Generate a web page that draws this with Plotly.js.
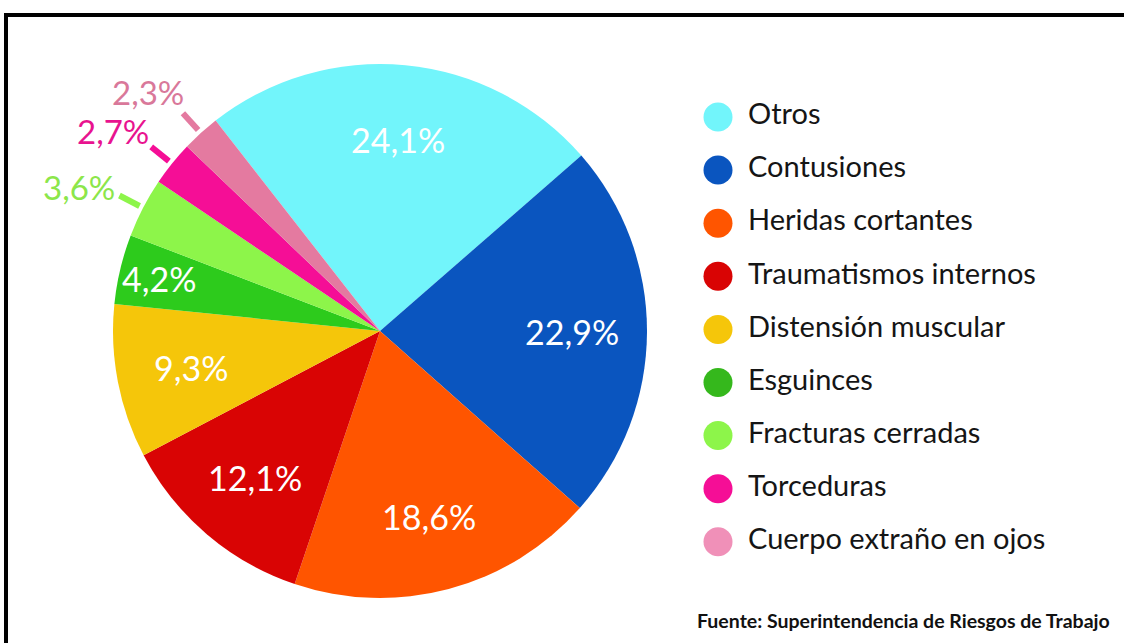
<!DOCTYPE html>
<html>
<head>
<meta charset="utf-8">
<script src="https://cdn.plot.ly/plotly-3.0.1.min.js"></script>
<style>html,body{margin:0;padding:0;background:#fff;}#chart{width:1124px;height:643px;}</style>
</head>
<body>
<div id="chart"></div>
<script>
const categories = ["Otros","Contusiones","Heridas cortantes","Traumatismos internos","Distensión muscular","Esguinces","Fracturas cerradas","Torceduras","Cuerpo extraño en ojos"];
const values = [24.1, 22.9, 18.6, 12.1, 9.3, 4.2, 3.6, 2.7, 2.3];
const sliceColors = ["#72F5FB","#0A55BF","#FF5500","#D90404","#F5C60A","#2DCB1C","#8DF54A","#F50E96","#E47AA0"];
const legendColors = ["#72F5FB","#0A55BF","#FF5500","#D90404","#F5C60A","#35B81C","#8DF54A","#F50E96","#F090B8"];
const outsideTextColors = ["","","","","","","#8CE64A","#E8138F","#D9789A"];
const sourceText = "Fuente: Superintendencia de Riesgos de Trabajo";

const W = 1124, H = 643;
const CX = 380, CY = 331, R = 267;
const ROT = -38;
const FONT = "Lato, 'Open Sans', sans-serif";

const fmt = v => v.toFixed(1).replace('.', ',') + '%';
const px2x = p => p / W;
const py2y = p => 1 - p / H;

const total = values.reduce((a, b) => a + b, 0);
let cum = 0;
const mids = values.map(v => { const m = ROT + (cum + v / 2) / total * 360; cum += v; return m; });
const pt = (deg, f) => {
  const a = deg * Math.PI / 180;
  return [CX + R * f * Math.sin(a), CY - R * f * Math.cos(a)];
};

const annotations = [];
const shapes = [];
values.forEach((v, i) => {
  if (v >= 4) {
    const f = v < 5 ? 0.85 : 0.72;
    const [x, y] = pt(mids[i], f);
    annotations.push({x: px2x(x), y: py2y(y), xref: 'paper', yref: 'paper', text: fmt(v), showarrow: false,
      font: {family: FONT, size: 34, color: '#ffffff'}, xanchor: 'center', yanchor: 'middle'});
  } else {
    const [tx, ty] = pt(mids[i] - 2, 1.25);
    annotations.push({x: px2x(tx), y: py2y(ty), xref: 'paper', yref: 'paper', text: fmt(v), showarrow: false,
      font: {family: FONT, size: 33, color: outsideTextColors[i]}, xanchor: 'center', yanchor: 'middle'});
    const [x0, y0] = pt(mids[i], 1.015);
    const [x1, y1] = pt(mids[i], 1.10);
    shapes.push({type: 'line', xref: 'paper', yref: 'paper', x0: px2x(x0), y0: py2y(y0), x1: px2x(x1), y1: py2y(y1),
      line: {color: sliceColors[i], width: 6}});
  }
});

annotations.push({x: px2x(1112), y: py2y(620), xref: 'paper', yref: 'paper', text: '<b>' + sourceText + '</b>',
  showarrow: false, xanchor: 'right', yanchor: 'middle', font: {family: FONT, size: 19.5, color: '#111111'}});

// frame (top and left thick lines)
shapes.push({type: 'line', xref: 'paper', yref: 'paper', x0: px2x(4), x1: 1, y0: py2y(15), y1: py2y(15), line: {color: '#000', width: 4}});
shapes.push({type: 'line', xref: 'paper', yref: 'paper', x0: px2x(6), x1: px2x(6), y0: py2y(13), y1: 0, line: {color: '#000', width: 4}});

const pie = {
  type: 'pie', labels: categories, values: values, sort: false, direction: 'clockwise', rotation: ROT,
  marker: {colors: sliceColors, line: {width: 0}}, textinfo: 'none', hoverinfo: 'label+percent', showlegend: false,
  domain: {x: [px2x(CX - R), px2x(CX + R)], y: [py2y(CY + R), py2y(CY - R)]}
};

const idx = categories.map((_, i) => i);
const legendMarkers = {
  type: 'scatter', mode: 'markers', x: categories.map(() => 0), y: idx, xaxis: 'x', yaxis: 'y',
  marker: {size: 29, color: legendColors, symbol: 'circle'}, showlegend: false, hoverinfo: 'skip'
};
const legendText = {
  type: 'scatter', mode: 'text', x: categories.map(() => 30), y: idx, xaxis: 'x', yaxis: 'y',
  text: categories, textposition: 'middle right', textfont: {family: FONT, size: 29, color: '#151515'},
  showlegend: false, hoverinfo: 'skip'
};

// legend axis: 1 unit = 1 px horizontally; rows 53 px apart starting at y=117
const X0 = 718, DOM0 = 0.6;
const domPx = W * (1 - DOM0);
const xr0 = -(X0 - W * DOM0);
const ROW0 = 117, ROWH = 53.1;

const layout = {
  width: W, height: H, margin: {l: 0, r: 0, t: 0, b: 0}, paper_bgcolor: '#ffffff', plot_bgcolor: 'rgba(0,0,0,0)',
  showlegend: false,
  xaxis: {domain: [DOM0, 1], range: [xr0, xr0 + domPx], visible: false, fixedrange: true},
  yaxis: {domain: [0, 1], range: [(H - ROW0) / ROWH, -ROW0 / ROWH], visible: false, fixedrange: true},
  annotations: annotations, shapes: shapes
};

Plotly.newPlot('chart', [pie, legendMarkers, legendText], layout, {displayModeBar: false, staticPlot: true});
</script>
</body>
</html>
